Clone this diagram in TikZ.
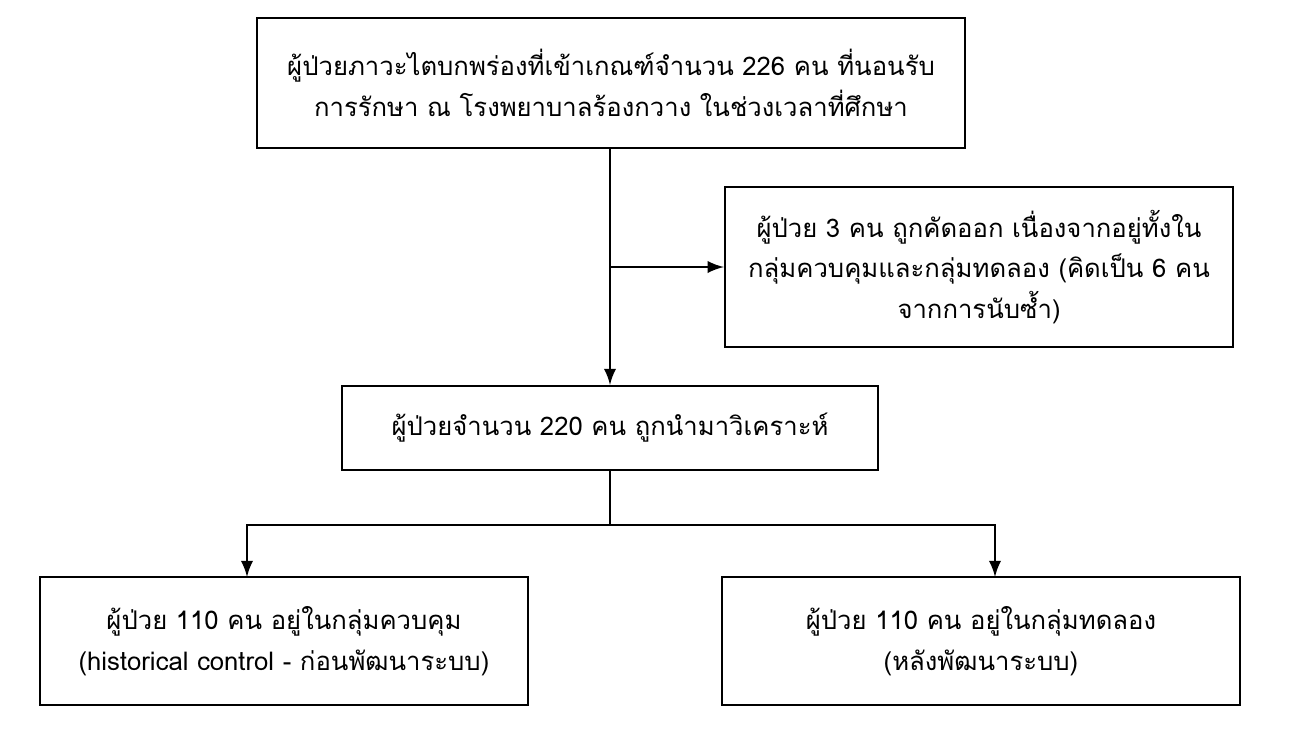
\documentclass[tikz,border=0pt]{standalone}
\usepackage{fontspec}
\setmainfont[Script=Thai]{Loma}
\usetikzlibrary{positioning}

\tikzset{
  stepbox/.style={draw=black, line width=0.6pt, align=center, inner sep=0pt,
    font=\fontsize{7.3}{11.6}\selectfont},
  link/.style={draw=black, line width=0.6pt},
  arr/.style={link, -latex}
}

\begin{document}
\begin{tikzpicture}[x=0.01cm,y=-0.01cm]
\useasboundingbox (0,0) rectangle (1299,730);
% boxes
\node [stepbox, minimum width=7.08cm, minimum height=1.3cm] (screened) at (611,83)
  {ผู้ป่วยภาวะไตบกพร่องที่เข้าเกณฑ์จำนวน 226 คน ที่นอนรับ\\การรักษา ณ โรงพยาบาลร้องกวาง ในช่วงเวลาที่ศึกษา};
\node [stepbox, minimum width=5.08cm, minimum height=1.6cm] (excluded) at (979,267)
  {ผู้ป่วย 3 คน ถูกคัดออก เนื่องจากอยู่ทั้งใน\\กลุ่มควบคุมและกลุ่มทดลอง (คิดเป็น 6 คน\\จากการนับซ้ำ)};
\node [stepbox, minimum width=5.35cm, minimum height=0.84cm] (analysed) at (610,428)
  {ผู้ป่วยจำนวน 220 คน ถูกนำมาวิเคราะห์};
\node [stepbox, minimum width=4.88cm, minimum height=1.28cm] (control) at (284,641)
  {ผู้ป่วย 110 คน อยู่ในกลุ่มควบคุม\\(historical control - ก่อนพัฒนาระบบ)};
\node [stepbox, minimum width=5.18cm, minimum height=1.28cm] (trial) at (981,641)
  {ผู้ป่วย 110 คน อยู่ในกลุ่มทดลอง\\(หลังพัฒนาระบบ)};
% connectors
\coordinate (split) at (610,267);
\coordinate (fork) at (610,525);
\coordinate (leftend) at (247,577);
\coordinate (rightend) at (995,577);
\draw [arr] (610,148) -- (analysed.north);
\draw [arr] (split) -- (excluded.west);
\draw [link] (analysed.south) -- (fork);
\draw [arr] (fork) -| (leftend);
\draw [arr] (fork) -| (rightend);
\end{tikzpicture}
\end{document}
